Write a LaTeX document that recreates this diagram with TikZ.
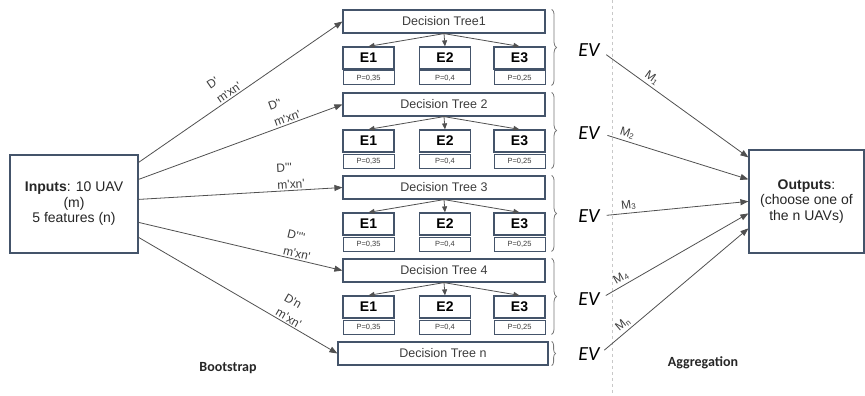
\documentclass[tikz,border=0pt]{standalone}
\usepackage{fontspec}
\setmainfont{Liberation Sans}
\newfontfamily\calfont{Carlito}
\usetikzlibrary{arrows.meta,decorations.pathreplacing,calc}
\definecolor{frame}{RGB}{68,84,106}
\definecolor{ink}{RGB}{60,60,60}
\definecolor{wire}{RGB}{80,80,80}
\definecolor{bracec}{RGB}{120,120,120}
\definecolor{divider}{RGB}{200,200,200}
\newcommand{\apos}{\textquotesingle}
\begin{document}
\begin{tikzpicture}[x=1pt,y=-1pt,
  blk/.style={draw=frame, line width=1.2pt, fill=white, inner sep=0pt, text=ink},
  tree/.style={blk, minimum width=202pt, minimum height=23pt, font=\fontsize{12.5}{14}\selectfont},
  est/.style={blk, minimum width=51pt, minimum height=22pt, text=black, font=\fontsize{14}{16}\selectfont\bfseries},
  prob/.style={blk, line width=1pt, minimum width=51pt, minimum height=14pt, font=\fontsize{7.5}{8}\selectfont},
  arr/.style={draw=wire, line width=0.8pt, -{Triangle[length=8pt,width=6pt]}},
  sarr/.style={draw=wire, line width=0.8pt, -{Triangle[length=6pt,width=5pt]}},
  lbl/.style={text=ink, align=left, inner sep=1.5pt, font=\fontsize{12}{17}\selectfont},
  mlbl/.style={text=ink, inner sep=2.5pt, font=\fontsize{12}{12}\selectfont},
  ev/.style={text=black, inner sep=0pt, font=\calfont\itshape\fontsize{20}{22}\selectfont},
  brc/.style={draw=bracec, line width=0.8pt, decorate, decoration={brace, amplitude=5pt}},
  phase/.style={text=black!85, font=\calfont\bfseries\fontsize{14}{16}\selectfont}
]
\useasboundingbox (0,0) rectangle (865,396);

% divider between bootstrap and aggregation
\draw[divider, dashed, line width=0.8pt] (612,0) -- (612,396);

% input and output boxes
\node[blk, text=black!85, align=center, minimum width=128pt, minimum height=98pt,
      font=\fontsize{14}{15.5}\selectfont] (inp) at (74,204)
      {\textbf{Inputs}: 10 UAV\\(m)\\5 features (n)};
\node[blk, text=black!85, align=center, minimum width=115pt, minimum height=103pt,
      font=\fontsize{14}{15.5}\selectfont] (out) at (806.5,201.5)
      {\textbf{Outputs}:\\(choose one of\\the n UAVs)};

% decision trees with their three estimators
\foreach \i/\t/\name in {1/10/Decision Tree1, 2/93/Decision Tree 2, 3/176/Decision Tree 3, 4/259/Decision Tree 4}{
  \node[tree] (dt\i) at (444,\t+11.5) {\name};
  \node[est] (e\i-1) at (368.5,\t+48) {E1};
  \node[est] (e\i-2) at (445,\t+48) {E2};
  \node[est] (e\i-3) at (519.5,\t+48) {E3};
  \node[prob] (p\i-1) at (368.5,\t+68) {P=0,35};
  \node[prob] (p\i-2) at (445,\t+68) {P=0,4};
  \node[prob] (p\i-3) at (519.5,\t+68) {P=0,25};
  \draw[sarr] (dt\i.south) -- (e\i-1.north);
  \draw[sarr] (dt\i.south) -- (e\i-2.north);
  \draw[sarr] (dt\i.south) -- (e\i-3.north);
  \draw[brc] ([xshift=6pt]dt\i.north east) -- ([xshift=6pt]p\i-3.south east);
  \node[ev] (ev\i) at (589,\t+40) {EV};
}
\node[tree, minimum width=210pt] (dtn) at (443,353.5) {Decision Tree n};
\draw[brc, decoration={brace, amplitude=4pt}] ([xshift=3pt]dtn.north east) -- ([xshift=3pt]dtn.south east);
\node[ev] (evn) at (589,354) {EV};

% bootstrap samples, each labelled with its sample and size
\draw[arr] ([yshift=-8pt]inp.north east) -- node[lbl, sloped, above, pos=0.46] {D\apos\\m\apos xn\apos} (dt1.west);
\draw[arr] ([yshift=-25pt]inp.north east) -- node[lbl, sloped, above, pos=0.74] {D\apos\apos\\m\apos xn\apos} (dt2.west);
\draw[arr] ([yshift=-45pt]inp.north east) -- node[lbl, sloped, above, pos=0.75] {D\apos\apos\apos\\m\apos xn\apos} (dt3.west);
\draw[arr] ([yshift=-68pt]inp.north east) -- node[lbl, sloped, above, pos=0.77] {D\apos\apos\apos\apos\\m\apos xn\apos} (dt4.west);
\draw[arr] ([yshift=-83pt]inp.north east) -- node[lbl, sloped, above, pos=0.74] {D\apos n\\m\apos xn\apos} (dtn.west);

% aggregation of the estimated values
\draw[arr, shorten <=8pt] (ev1.east) -- node[mlbl, sloped, above, pos=0.32] {M\textsubscript{1}} ([yshift=-8pt]out.north west);
\draw[arr, shorten <=8pt] (ev2.east) -- node[mlbl, sloped, above, pos=0.17] {M\textsubscript{2}} ([yshift=-30pt]out.north west);
\draw[arr, shorten <=7pt] (ev3.east) -- node[mlbl, sloped, above, pos=0.2] {M\textsubscript{3}} ([yshift=-52pt]out.north west);
\draw[arr, shorten <=7pt] (ev4.east) -- node[mlbl, sloped, above, pos=0.17] {M\textsubscript{4}} ([yshift=-64pt]out.north west);
\draw[arr, shorten <=6pt] (evn.east) -- node[mlbl, sloped, above, pos=0.19] {M\textsubscript{n}} ([yshift=-79pt]out.north west);

% phase captions
\node[phase] (boot) at (228,368) {Bootstrap};
\node[phase] (aggr) at (703,363) {Aggregation};
\end{tikzpicture}
\end{document}
